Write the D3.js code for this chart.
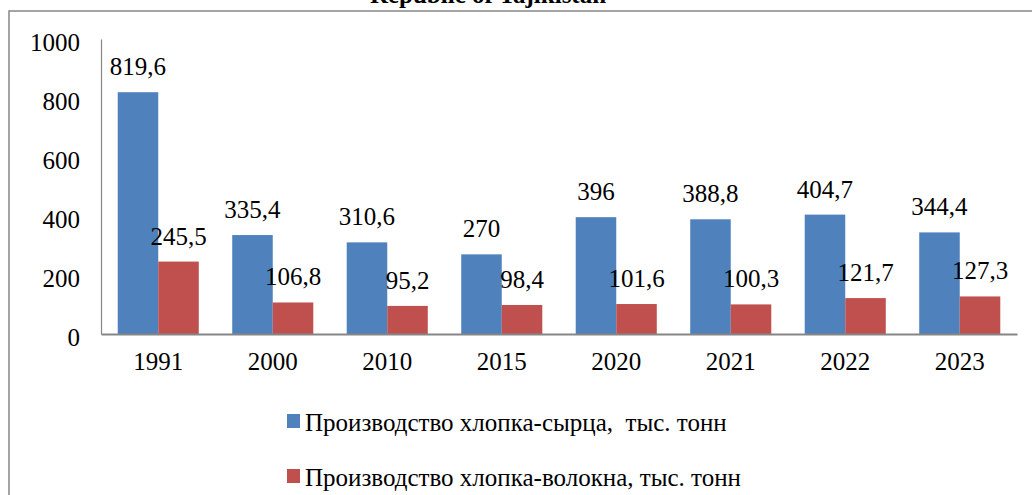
<!DOCTYPE html>
<html>
<head>
<meta charset="utf-8">
<script src="https://cdn.jsdelivr.net/npm/d3@7"></script>
<style>
  body { margin: 0; background: #fff; }
</style>
</head>
<body>
<svg id="chart" width="1032" height="495"></svg>
<script>
// data
const years = ['1991', '2000', '2010', '2015', '2020', '2021', '2022', '2023'];
const rawCotton = [819.6, 335.4, 310.6, 270, 396, 388.8, 404.7, 344.4];
const cottonFiber = [245.5, 106.8, 95.2, 98.4, 101.6, 100.3, 121.7, 127.3];
const seriesNames = ['Производство хлопка-сырца,  тыс. тонн', 'Производство хлопка-волокна, тыс. тонн'];
const seriesColors = ['#4F81BD', '#C0504D'];
const yTicks = [0, 200, 400, 600, 800, 1000];

const FONT = '"Liberation Serif", "Times New Roman", "DejaVu Serif", serif';

const svg = d3.select('#chart');
const plot = {left: 101, right: 1017, top: 39, bottom: 334};

// outer frame (runs off the right and bottom edges)
svg.append('rect')
    .attr('x', 9).attr('y', 11)
    .attr('width', 1040).attr('height', 500)
    .attr('fill', 'none')
    .attr('stroke', '#868686')
    .attr('stroke-width', 1.5);

// title, cut off at the top like in the source
svg.append('text')
    .attr('x', 488).attr('y', 3)
    .attr('text-anchor', 'middle')
    .style('font-family', FONT)
    .style('font-size', '25px')
    .style('font-weight', 'bold')
    .text('Republic of Tajikistan');

const x0 = d3.scaleBand().domain(years).range([plot.left, plot.right]);
const pad = x0.bandwidth() * 0.146;
const x1 = d3.scaleBand().domain([0, 1]).range([pad, x0.bandwidth() - pad]);
const y = d3.scaleLinear().domain([0, 1000]).range([plot.bottom, plot.top]);

const rows = years.map((yr, i) => ({year: yr, vals: [rawCotton[i], cottonFiber[i]]}));

const groups = svg.append('g').selectAll('g')
    .data(rows)
    .join('g')
    .attr('transform', d => `translate(${x0(d.year)},0)`);

groups.selectAll('rect')
    .data(d => d.vals.map((v, k) => ({v, k})))
    .join('rect')
    .attr('x', d => x1(d.k))
    .attr('y', d => y(d.v))
    .attr('width', x1.bandwidth())
    .attr('height', d => y(0) - y(d.v))
    .attr('fill', d => seriesColors[d.k]);

groups.selectAll('text')
    .data(d => d.vals.map((v, k) => ({v, k})))
    .join('text')
    .attr('x', d => x1(d.k) + x1.bandwidth() / 2)
    .attr('y', d => y(d.v) - 17)
    .attr('text-anchor', 'middle')
    .style('font-family', FONT)
    .style('font-size', '25px')
    .text(d => String(d.v).replace('.', ','));

// y axis
const yAxis = svg.append('g')
    .attr('transform', `translate(${plot.left},0)`)
    .call(d3.axisLeft(y).tickValues(yTicks).tickFormat(d3.format('d')).tickSize(0).tickPadding(21));
yAxis.attr('font-family', null);
yAxis.select('.domain').attr('stroke', '#868686').attr('stroke-width', 1.2);
yAxis.selectAll('text')
    .style('font-family', FONT)
    .style('font-size', '25px')
    .attr('fill', '#000')
    .attr('dy', '0.35em')
    .attr('transform', 'translate(0,3)');

// x axis
const xAxis = svg.append('g')
    .attr('transform', `translate(0,${plot.bottom})`)
    .call(d3.axisBottom(x0).tickSize(0).tickPadding(18));
xAxis.attr('font-family', null);
xAxis.select('.domain').attr('stroke', '#868686').attr('stroke-width', 2);
xAxis.selectAll('text')
    .style('font-family', FONT)
    .style('font-size', '25px')
    .attr('fill', '#000');

// legend
const legend = svg.append('g').selectAll('g')
    .data(seriesNames)
    .join('g')
    .attr('transform', (d, i) => `translate(287,${414 + i * 55})`);
legend.append('rect')
    .attr('width', 13).attr('height', 14)
    .attr('fill', (d, i) => seriesColors[i]);
legend.append('text')
    .attr('x', 18).attr('y', 17)
    .style('font-family', FONT)
    .style('font-size', '25px')
    .style('white-space', 'pre')
    .text(d => d);
</script>
</body>
</html>
